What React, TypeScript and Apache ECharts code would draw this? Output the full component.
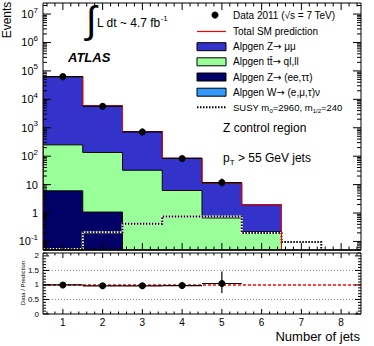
import React, { useEffect, useRef } from 'react';
import * as echarts from 'echarts';

const FONT = '"Liberation Sans", Arial, Helvetica, sans-serif';
const SYMFONT = '"DejaVu Sans", sans-serif';

// ---- data ----
const bins = [1, 2, 3, 4, 5, 6, 7, 8];
const wjets = [0.02, 0.01, 0, 0, 0, 0, 0, 0];
const zeeTautau = [6.0, 1.07, 0.02, 0.01, 0, 0, 0, 0];
const ttbar = [244, 134, 32, 6.2, 0.67, 0.22, 0, 0];
const zmumu = [62750, 5765, 704, 78.8, 10.6, 1.73, 0, 0];
const susy = [0.054, 0.21, 0.42, 0.75, 0.75, 0.2, 0.096, 0.02];
const dataBins = [1, 2, 3, 4, 5];
const dataCounts = [63000, 5720, 714, 83, 11.8];
const dataErrUp = [251, 76, 27, 9.6, 4.5];
const dataErrDown = [251, 76, 27, 9.1, 3.4];
const ratio = [1.0, 0.97, 0.97, 0.98, 1.05];
const ratioErrUp = [0.004, 0.013, 0.037, 0.12, 0.41];
const ratioErrDown = [0.004, 0.013, 0.036, 0.11, 0.33];
const xTickLabels = ['1', '2', '3', '4', '5', '6', '7', '8'];
const ratioTickLabels = [0, 0.5, 1, 1.5, 2];

// ---- axis ranges ----
const XMIN = 0.5, XMAX = 8.5;
const YMIN = 0.05, YMAX = 2.45e7;
const RMIN = 0, RMAX = 2.1;

const C_ZMUMU = '#3333CC';
const C_TT = '#99FF99';
const C_ZEE = '#000066';
const C_W = '#3399FF';

function line(x1: number, y1: number, x2: number, y2: number, style: any = {}) {
  return { type: 'line', shape: { x1, y1, x2, y2 }, style: { stroke: '#000', lineWidth: 1, ...style } };
}

function stepPts(api: any, vals: number[]) {
  const floor = YMIN * 0.3;
  const pts: number[][] = [];
  pts.push(api.coord([XMIN, floor]));
  vals.forEach((v, i) => {
    const yv = v > 0 ? v : floor;
    pts.push(api.coord([bins[i] - 0.5, yv]));
    pts.push(api.coord([bins[i] + 0.5, yv]));
  });
  pts.push(api.coord([XMAX, floor]));
  return pts;
}

function txt(x: number, y: number, text: string, fontSize: number, extra: any = {}) {
  return {
    type: 'text', x, y, z: 100,
    style: {
      text, fontSize, fontFamily: FONT, fill: '#000',
      align: 'left', verticalAlign: 'middle', textAlign: 'left', textVerticalAlign: 'middle',
      ...extra,
    },
  };
}

function vtxt(x: number, y: number, text: string, fontSize: number) {
  return {
    type: 'group', x, y, rotation: Math.PI / 2, z: 100,
    children: [
      {
        type: 'text', x: 0, y: 0, z: 100,
        style: {
          text, fontSize, fontFamily: FONT, fill: '#000',
          align: 'center', verticalAlign: 'middle', textAlign: 'center', textVerticalAlign: 'middle',
        },
      },
    ],
  };
}

function buildOption() {
  const cumW = wjets.slice();
  const cumZee = cumW.map((v, i) => v + zeeTautau[i]);
  const cumTt = cumZee.map((v, i) => v + ttbar[i]);
  const cumTot = cumTt.map((v, i) => v + zmumu[i]);
  const layers = [
    { cum: cumTot, color: C_ZMUMU },
    { cum: cumTt, color: C_TT },
    { cum: cumZee, color: C_ZEE },
    { cum: cumW, color: C_W },
  ];

  const dummy = [[1, 1]];

  const stackSeries = {
    type: 'custom', xAxisIndex: 0, yAxisIndex: 0, z: 2, clip: true, silent: true,
    data: dummy,
    renderItem: (_p: any, api: any) => {
      const children: any[] = [];
      layers.forEach((L) => {
        const pts = stepPts(api, L.cum);
        children.push({ type: 'polygon', shape: { points: pts }, style: { fill: L.color, stroke: 'none' } });
        children.push({ type: 'polyline', shape: { points: pts }, style: { fill: 'none', stroke: '#000', lineWidth: 1 } });
      });
      const sp = stepPts(api, susy);
      children.push({ type: 'polyline', shape: { points: sp }, style: { fill: 'none', stroke: '#fff', lineWidth: 2 } });
      children.push({ type: 'polyline', shape: { points: sp }, style: { fill: 'none', stroke: '#000', lineWidth: 2, lineDash: [1.5, 1.5] } });
      const tp = stepPts(api, cumTot);
      children.push({ type: 'polyline', shape: { points: tp }, style: { fill: 'none', stroke: '#FF0000', lineWidth: 1 } });
      return { type: 'group', children };
    },
  };

  const dataSeries = {
    type: 'custom', xAxisIndex: 0, yAxisIndex: 0, z: 5, silent: true,
    data: dummy,
    renderItem: (_p: any, api: any) => {
      const ch: any[] = [];
      dataBins.forEach((b, i) => {
        const [cx, cy] = api.coord([b, dataCounts[i]]);
        const xl = api.coord([b - 0.5, dataCounts[i]])[0];
        const xr = api.coord([b + 0.5, dataCounts[i]])[0];
        const yu = api.coord([b, dataCounts[i] + dataErrUp[i]])[1];
        const yd = api.coord([b, dataCounts[i] - dataErrDown[i]])[1];
        ch.push(line(xl, cy, xr, cy, { lineWidth: 1.2 }));
        ch.push(line(cx, yu, cx, yd, { lineWidth: 1.2 }));
        ch.push({ type: 'circle', shape: { cx, cy, r: 3.5 }, style: { fill: '#000', stroke: 'none' } });
      });
      return { type: 'group', children: ch };
    },
  };

  const mainFrame = {
    type: 'custom', xAxisIndex: 0, yAxisIndex: 0, z: 8, silent: true,
    data: dummy,
    renderItem: (_p: any, api: any) => {
      const ch: any[] = [];
      const [x0, y0] = api.coord([XMIN, YMIN]);
      const [x1, y1] = api.coord([XMAX, YMAX]);
      for (let n = -2; n <= 8; n++) {
        for (let k = 1; k <= 9; k++) {
          const v = k * Math.pow(10, n);
          if (v < YMIN || v > YMAX) continue;
          const y = api.coord([XMIN, v])[1];
          const len = k === 1 ? 8 : 4;
          ch.push(line(x0, y, x0 + len, y));
          ch.push(line(x1, y, x1 - len, y));
        }
      }
      for (let j = 0; j < 40; j++) {
        const xv = 0.6 + 0.2 * j;
        const major = Math.abs(xv - Math.round(xv)) < 1e-6;
        const x = api.coord([xv, YMIN])[0];
        const len = major ? 7 : 3.5;
        ch.push(line(x, y0, x, y0 - len));
        ch.push(line(x, y1, x, y1 + len));
      }
      ch.push({ type: 'rect', shape: { x: x0, y: y1, width: x1 - x0, height: y0 - y1 }, style: { fill: 'none', stroke: '#000', lineWidth: 1 } });
      ch.push(line(x0, y0, x1, y0, { lineWidth: 1.5 }));
      return { type: 'group', children: ch };
    },
  };

  const ratioSeries = {
    type: 'custom', xAxisIndex: 1, yAxisIndex: 1, z: 5, silent: true,
    data: dummy,
    renderItem: (_p: any, api: any) => {
      const ch: any[] = [];
      const [x0, y0] = api.coord([XMIN, RMIN]);
      const [x1, y1] = api.coord([XMAX, RMAX]);
      [0.5, 1.5].forEach((v) => {
        const y = api.coord([XMIN, v])[1];
        ch.push(line(x0, y, x1, y, { stroke: '#888', lineDash: [1, 2] }));
      });
      const y1line = api.coord([XMIN, 1])[1];
      ch.push(line(x0, y1line, x1, y1line, { stroke: '#FF0000', lineWidth: 1.5, lineDash: [3, 2] }));
      dataBins.forEach((b, i) => {
        const [cx, cy] = api.coord([b, ratio[i]]);
        const xl = api.coord([b - 0.5, ratio[i]])[0];
        const xr = api.coord([b + 0.5, ratio[i]])[0];
        const yu = api.coord([b, ratio[i] + ratioErrUp[i]])[1];
        const yd = api.coord([b, ratio[i] - ratioErrDown[i]])[1];
        ch.push(line(xl, cy, xr, cy, { lineWidth: 1.2 }));
        ch.push(line(cx, yu, cx, yd, { lineWidth: 1.2 }));
        ch.push({ type: 'circle', shape: { cx, cy, r: 3.5 }, style: { fill: '#000', stroke: 'none' } });
      });
      for (let j = 0; j <= 21; j++) {
        const v = j * 0.1;
        if (v > RMAX + 1e-9) continue;
        const y = api.coord([XMIN, v])[1];
        const major = Math.abs(v * 2 - Math.round(v * 2)) < 1e-6;
        const len = major ? 6 : 3;
        ch.push(line(x0, y, x0 + len, y));
        ch.push(line(x1, y, x1 - len, y));
      }
      for (let j = 0; j < 40; j++) {
        const xv = 0.6 + 0.2 * j;
        const major = Math.abs(xv - Math.round(xv)) < 1e-6;
        const x = api.coord([xv, RMIN])[0];
        const len = major ? 5 : 2.5;
        ch.push(line(x, y0, x, y0 - len));
        ch.push(line(x, y1, x, y1 + len));
      }
      ch.push({ type: 'rect', shape: { x: x0, y: y1, width: x1 - x0, height: y0 - y1 }, style: { fill: 'none', stroke: '#000', lineWidth: 1 } });
      return { type: 'group', children: ch };
    },
  };

  const legendX = 197, legendW = 29, legendTextX = 233;
  const ly = [15, 31.5, 46.7, 61.8, 77, 92.2, 107.3];
  const legFont = 10;
  const legRich = {
    n: { fontSize: legFont, fontFamily: FONT, fill: '#000', lineHeight: 14 },
    a: { fontSize: legFont, fontFamily: SYMFONT, fill: '#000', lineHeight: 14 },
    s: { fontSize: 6.5, fontFamily: FONT, fill: '#000', verticalAlign: 'bottom', lineHeight: 8 },
  };
  const susyRich = {
    n: { fontSize: 9.5, fontFamily: FONT, fill: '#000', lineHeight: 14 },
    s: { fontSize: 6, fontFamily: FONT, fill: '#000', verticalAlign: 'bottom', lineHeight: 8 },
  };
  const box = (y: number, color: string) => ({
    type: 'rect', z: 100,
    shape: { x: legendX, y: y - 4, width: legendW, height: 8 },
    style: { fill: color, stroke: '#000', lineWidth: 1 },
  });

  const graphic: any[] = [
    // legend
    { type: 'circle', z: 100, shape: { cx: 215, cy: ly[0], r: 3.5 }, style: { fill: '#000' } },
    txt(legendTextX, ly[0], 'Data 2011 (\u221As = 7 TeV)', legFont),
    { type: 'rect', z: 100, shape: { x: legendX, y: ly[1] - 0.6, width: legendW, height: 1.2 }, style: { fill: '#FF0000', stroke: 'none' } },
    txt(legendTextX, ly[1], 'Total SM prediction', legFont),
    box(ly[2], C_ZMUMU),
    txt(legendTextX, ly[2], '{n|Alpgen Z}{a|\u2192}{n| \u03BC\u03BC}', legFont, { rich: legRich }),
    box(ly[3], C_TT),
    txt(legendTextX, ly[3], '{n|Alpgen t\u0074\u0304}{a|\u2192}{n| ql,ll}', legFont, { rich: legRich }),
    box(ly[4], C_ZEE),
    txt(legendTextX, ly[4], '{n|Alpgen Z}{a|\u2192}{n| (ee,\u03C4\u03C4)}', legFont, { rich: legRich }),
    box(ly[5], C_W),
    txt(legendTextX, ly[5], '{n|Alpgen W}{a|\u2192}{n| (e,\u03BC,\u03C4)\u03BD}', legFont, { rich: legRich }),
    { type: 'line', z: 100, shape: { x1: legendX, y1: ly[6], x2: legendX + legendW, y2: ly[6] }, style: { stroke: '#000', lineWidth: 2, lineDash: [1.5, 1.5] } },
    txt(legendTextX, ly[6], '{n|SUSY m}{s|0}{n|=2960, m}{s|1/2}{n|=240}', legFont, { rich: susyRich }),
    // luminosity
    txt(86, 20, '\u222B', 38),
    txt(97, 23, '{n|L dt ~ 4.7 fb}{s|-1}', 12, {
      rich: {
        n: { fontSize: 12, fontFamily: FONT, fill: '#000', lineHeight: 18 },
        s: { fontSize: 8, fontFamily: FONT, fill: '#000', verticalAlign: 'top', lineHeight: 9 },
      },
    }),
    txt(68, 57, 'ATLAS', 13, { fontWeight: 'bold', fontStyle: 'italic' }),
    txt(223, 128, 'Z control region', 12),
    txt(223, 158, '{n|p}{s|T}{n| > 55 GeV jets}', 12, {
      rich: {
        n: { fontSize: 12, fontFamily: FONT, fill: '#000', lineHeight: 16 },
        s: { fontSize: 8, fontFamily: FONT, fill: '#000', verticalAlign: 'bottom', lineHeight: 8 },
      },
    }),
    // axis titles
    vtxt(7, 20, 'Events', 12),
    vtxt(23, 283, 'Data / Prediction', 6),
    txt(360, 336, 'Number of jets', 13, { align: 'right', textAlign: 'right' }),
  ];

  return {
    animation: false,
    backgroundColor: '#fff',
    textStyle: { fontFamily: FONT },
    grid: [
      { left: 43, top: 3, width: 318, height: 247, outerBoundsMode: 'none' },
      { left: 43, top: 253, width: 318, height: 61, outerBoundsMode: 'none' },
    ],
    xAxis: [
      {
        gridIndex: 0, type: 'value', min: XMIN, max: XMAX,
        axisLabel: { show: false }, axisTick: { show: false }, axisLine: { show: false }, splitLine: { show: false },
      },
      {
        gridIndex: 1, type: 'value', min: XMIN, max: XMAX,
        axisLabel: {
          customValues: bins,
          formatter: (v: number) => xTickLabels[Math.round(v) - 1] ?? '',
          fontSize: 10, fontFamily: FONT, color: '#000', margin: 3,
        },
        axisTick: { show: false }, axisLine: { show: false }, splitLine: { show: false },
      },
    ],
    yAxis: [
      {
        gridIndex: 0, type: 'log', logBase: 10, min: YMIN, max: YMAX,
        axisLabel: {
          margin: 5,
          formatter: (v: number) => {
            const l = Math.log10(v);
            const n = Math.round(l);
            if (Math.abs(l - n) > 1e-6) return '';
            if (n === 0) return '{b|1}';
            if (n === 1) return '{b|10}';
            return `{b|10}{s|${n}}`;
          },
          rich: {
            b: { fontSize: 11, lineHeight: 16, fontFamily: FONT, color: '#000' },
            s: { fontSize: 8, lineHeight: 9, verticalAlign: 'top', fontFamily: FONT, color: '#000' },
          },
        },
        axisTick: { show: false }, axisLine: { show: false }, splitLine: { show: false },
      },
      {
        gridIndex: 1, type: 'value', min: RMIN, max: RMAX,
        axisLabel: {
          customValues: ratioTickLabels,
          formatter: (v: number) => (v > 2.01 ? '' : String(v)),
          fontSize: 8, fontFamily: FONT, color: '#000', margin: 4,
        },
        axisTick: { show: false }, axisLine: { show: false }, splitLine: { show: false },
      },
    ],
    series: [stackSeries, dataSeries, mainFrame, ratioSeries],
    graphic,
  };
}

export default function App() {
  const ref = useRef<HTMLDivElement>(null);
  useEffect(() => {
    if (!ref.current) return;
    const chart = echarts.init(ref.current, null, { renderer: 'svg' });
    chart.setOption(buildOption() as any);
    return () => chart.dispose();
  }, []);
  return (
    <div
      ref={ref}
      style={{ position: 'absolute', left: 0, top: 0, width: 374, height: 346, background: '#fff' }}
    />
  );
}
